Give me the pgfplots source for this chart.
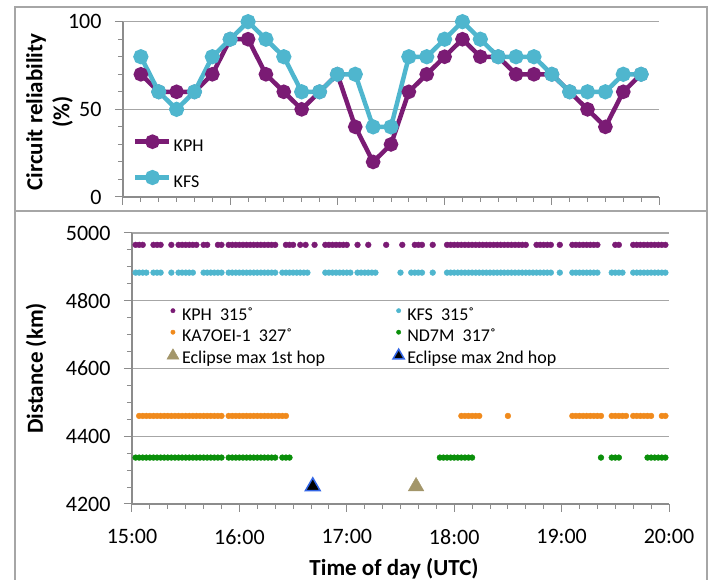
\documentclass[border=0pt]{standalone}
\usepackage{fontspec}
\setmainfont{Carlito}
\usepackage{pgfplots}
\pgfplotsset{compat=1.18}
\definecolor{kph}{RGB}{122,27,116}
\definecolor{kfs}{RGB}{79,182,206}
\definecolor{ka7}{RGB}{240,138,28}
\definecolor{nd7}{RGB}{10,143,10}
\definecolor{tanc}{RGB}{163,150,106}
\definecolor{blu}{RGB}{51,102,230}
\definecolor{gridc}{RGB}{166,166,166}
\definecolor{axc}{RGB}{140,140,140}
\pgfplotsset{
  common/.style={
    scale only axis,
    axis x line*=bottom, axis y line*=left,
    axis line style={axc, line width=1.2pt},
    tick style={axc, line width=1pt},
    tick align=outside,
    major tick length=8pt, minor tick length=5pt,
    ymajorgrids, major grid style={gridc, line width=1.3pt},
    tick label style={font=\fontsize{22}{26}\selectfont, black},
    yticklabel style={xshift=-10pt},
    xticklabel style={yshift=-14pt},
    /pgf/number format/assume math mode=true,
    /pgf/number format/1000 sep={},
    scaled ticks=false,
    clip=false,
  }
}
\begin{document}
\begin{tikzpicture}[x=1pt,y=1pt]
\useasboundingbox (0,0) rectangle (713,580);
\draw[gridc, line width=1.5pt] (15,573) rectangle (707,369);
\draw[gridc, line width=1.5pt] (15,369) -- (15,-5) -- (707,-5) -- (707,369);

% ---------- top panel ----------
\begin{axis}[common,
  at={(123pt,383pt)}, anchor=south west, width=536pt, height=175.3pt,
  xmin=0, xmax=300, ymin=0, ymax=100,
  xtick={0,60,...,300}, xticklabels={}, minor x tick num=5,
  ytick={0,50,100}, minor y tick num=4,
  every axis y label/.style={at={(rel axis cs:-0.137,0.485)}, rotate=90, anchor=center,
     align=center, font=\bfseries\fontsize{23}{27}\selectfont},
  ylabel={Circuit reliability\\(\%)},
  legend style={at={(0.0187,0.345)}, anchor=north west, draw=none, fill=none,
     inner sep=0pt, row sep=15.5pt, font=\fontsize{18}{21}\selectfont,
     nodes={inner sep=2pt, text height=12.5pt, text depth=3.5pt},
     /tikz/every odd column/.append style={column sep=0pt}},
  legend cell align=left,
  legend image code/.code={\draw[#1, mark repeat=2, mark phase=2] plot coordinates {(0pt,5pt) (17pt,5pt) (34pt,5pt)};},
]
\addplot[kph, line width=4.5pt, mark=*, mark size=5pt] coordinates {
 (10,70) (20,60) (30,60) (40,60) (50,70) (60,90) (70,90) (80,70) (90,60) (100,50)
 (110,60) (120,70) (130,40) (140,20) (150,30) (160,60) (170,70) (180,80) (190,90) (200,80)
 (210,80) (220,70) (230,70) (240,70) (250,60) (260,50) (270,40) (280,60) (290,70)};
\addlegendentry{KPH}
\addplot[kfs, line width=4.5pt, mark=*, mark size=5.3pt] coordinates {
 (10,80) (20,60) (30,50) (40,60) (50,80) (60,90) (70,100) (80,90) (90,80) (100,60)
 (110,60) (120,70) (130,70) (140,40) (150,40) (160,80) (170,80) (180,90) (190,100) (200,90)
 (210,80) (220,80) (230,80) (240,70) (250,60) (260,60) (270,60) (280,70) (290,70)};
\addlegendentry{KFS}
\end{axis}

% ---------- bottom panel ----------
\begin{axis}[common,
  at={(132pt,76pt)}, anchor=south west, width=537pt, height=271pt,
  xmin=0, xmax=300, ymin=4200, ymax=5000,
  xtick={0,60,...,300}, xticklabels={15:00,16:00,17:00,18:00,19:00,20:00}, minor x tick num=5,
  ytick={4200,4400,...,5000}, minor y tick num=3,
  every axis y label/.style={at={(rel axis cs:-0.1788,0.5)}, rotate=90, anchor=center,
     font=\bfseries\fontsize{23}{27}\selectfont},
  every axis x label/.style={at={(rel axis cs:0.488,-0.238)}, anchor=center,
     font=\bfseries\fontsize{23}{27}\selectfont},
  ylabel={Distance (km)},
  xlabel={Time of day (UTC)},
  legend columns=2,
  legend style={at={(0.0646,0.7325)}, anchor=north west, draw=none, fill=none,
     inner sep=0pt, row sep=1.5pt, font=\fontsize{18}{21}\selectfont,
     nodes={inner sep=2pt, text height=12.5pt, text depth=3.5pt},
     /tikz/every odd column/.append style={column sep=1pt},
     /tikz/every even column/.append style={column sep=66pt}},
  legend cell align=left,
  legend image code/.code={\draw[#1] plot coordinates {(5pt,5pt)}; \path (0pt,0pt) (10pt,0pt);},
]
\addplot[only marks, mark=*, mark size=2.9pt, kph, legend image post style={mark size=2.2pt}] coordinates {
(2,4965) (4,4965) (6,4965) (12,4965) (14,4965) (16,4965) (22,4965) (26,4965) (28,4965) (30,4965)
(32,4965) (34,4965) (36,4965) (40,4965) (42,4965) (48,4965) (50,4965) (54,4965) (56,4965) (58,4965)
(60,4965) (62,4965) (64,4965) (66,4965) (68,4965) (70,4965) (72,4965) (74,4965) (76,4965) (78,4965)
(80,4965) (86,4965) (88,4965) (90,4965) (94,4965) (97,4965) (102,4965) (108,4965) (110,4965) (112,4965)
(114,4965) (116,4965) (118,4965) (120,4965) (126,4965) (132,4965) (142,4965) (151,4965) (158,4965) (160,4965)
(162,4965) (168,4965) (176,4965) (178,4965) (180,4965) (182,4965) (184,4965) (186,4965) (188,4965) (190,4965)
(192,4965) (194,4965) (196,4965) (198,4965) (200,4965) (202,4965) (204,4965) (206,4965) (208,4965) (210,4965)
(212,4965) (214,4965) (216,4965) (218,4965) (220,4965) (226,4965) (228,4965) (230,4965) (232,4965) (234,4965)
(239,4965) (246,4965) (248,4965) (250,4965) (252,4965) (254,4965) (256,4965) (258,4965) (260,4965) (270,4965)
(272,4965) (280,4965) (282,4965) (284,4965) (286,4965) (288,4965) (290,4965) (292,4965) (294,4965) (296,4965)
(298,4965)};
\addlegendentry{KPH\ \ 315˚}
\addplot[only marks, mark=*, mark size=2.9pt, kfs, legend image post style={mark size=2.2pt}] coordinates {
(2,4883) (4,4883) (6,4883) (8,4883) (12,4883) (14,4883) (16,4883) (22,4883) (26,4883) (28,4883)
(30,4883) (32,4883) (34,4883) (40,4883) (42,4883) (44,4883) (46,4883) (48,4883) (50,4883) (54,4883)
(56,4883) (58,4883) (60,4883) (62,4883) (64,4883) (66,4883) (68,4883) (70,4883) (72,4883) (74,4883)
(76,4883) (78,4883) (80,4883) (84,4883) (86,4883) (88,4883) (90,4883) (92,4883) (94,4883) (96,4883)
(98,4883) (108,4883) (110,4883) (112,4883) (114,4883) (116,4883) (118,4883) (120,4883) (122,4883) (126,4883)
(128,4883) (130,4883) (132,4883) (134,4883) (136,4883) (150,4883) (156,4883) (158,4883) (160,4883) (162,4883)
(168,4883) (176,4883) (178,4883) (180,4883) (182,4883) (184,4883) (186,4883) (188,4883) (190,4883) (192,4883)
(194,4883) (196,4883) (198,4883) (200,4883) (202,4883) (204,4883) (206,4883) (208,4883) (210,4883) (212,4883)
(214,4883) (216,4883) (218,4883) (220,4883) (222,4883) (224,4883) (226,4883) (228,4883) (230,4883) (232,4883)
(234,4883) (239,4883) (246,4883) (248,4883) (250,4883) (252,4883) (254,4883) (256,4883) (258,4883) (260,4883)
(268,4883) (270,4883) (272,4883) (274,4883) (280,4883) (282,4883) (284,4883) (286,4883) (288,4883) (290,4883)
(292,4883) (294,4883) (296,4883) (298,4883)};
\addlegendentry{KFS\ \ 315˚}
\addplot[only marks, mark=*, mark size=2.9pt, ka7, legend image post style={mark size=2.2pt}] coordinates {
(4,4460) (6,4460) (8,4460) (10,4460) (12,4460) (14,4460) (16,4460) (18,4460) (20,4460) (22,4460)
(24,4460) (26,4460) (28,4460) (30,4460) (32,4460) (34,4460) (36,4460) (38,4460) (40,4460) (42,4460)
(44,4460) (46,4460) (48,4460) (50,4460) (54,4460) (56,4460) (58,4460) (60,4460) (62,4460) (64,4460)
(66,4460) (68,4460) (70,4460) (72,4460) (74,4460) (76,4460) (78,4460) (80,4460) (82,4460) (84,4460)
(86,4460) (184,4460) (186,4460) (188,4460) (190,4460) (192,4460) (194,4460) (210,4460) (246,4460) (248,4460)
(250,4460) (252,4460) (254,4460) (256,4460) (258,4460) (260,4460) (262,4460) (268,4460) (270,4460) (272,4460)
(274,4460) (276,4460) (280,4460) (282,4460) (284,4460) (286,4460) (288,4460) (290,4460) (296,4460) (298,4460)};
\addlegendentry{KA7OEI-1\ \ 327˚}
\addplot[only marks, mark=*, mark size=2.9pt, nd7, legend image post style={mark size=2.2pt}] coordinates {
(2,4337) (4,4337) (6,4337) (8,4337) (10,4337) (12,4337) (14,4337) (16,4337) (18,4337) (20,4337)
(22,4337) (24,4337) (26,4337) (28,4337) (30,4337) (32,4337) (34,4337) (36,4337) (38,4337) (40,4337)
(42,4337) (44,4337) (46,4337) (48,4337) (50,4337) (54,4337) (56,4337) (58,4337) (60,4337) (62,4337)
(64,4337) (66,4337) (68,4337) (70,4337) (72,4337) (74,4337) (76,4337) (78,4337) (80,4337) (84,4337)
(86,4337) (88,4337) (172,4337) (174,4337) (176,4337) (178,4337) (180,4337) (182,4337) (184,4337) (186,4337)
(188,4337) (190,4337) (262,4337) (268,4337) (270,4337) (272,4337) (288,4337) (290,4337) (292,4337) (294,4337)
(296,4337) (298,4337)};
\addlegendentry{ND7M\ \ 317˚}
\addplot[only marks, mark=triangle*, mark size=9pt, tanc, legend image post style={mark size=7pt, yshift=-1.5pt}] coordinates {(158.7,4252)};
\addlegendentry{Eclipse max 1st hop}
\addplot[only marks, mark=triangle*, mark size=8.5pt, mark options={fill=black, draw=blu, line width=1.5pt},
   legend image post style={mark size=6.5pt, yshift=-1.5pt}] coordinates {(101,4252)};
\addlegendentry{Eclipse max 2nd hop}
\end{axis}
\end{tikzpicture}
\end{document}
